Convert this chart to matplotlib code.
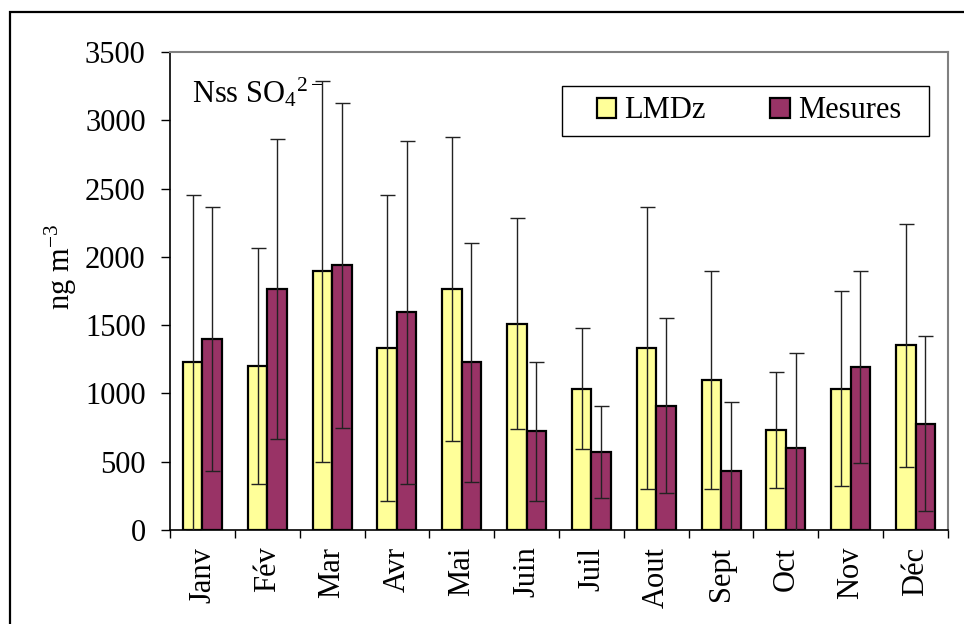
import numpy as np
import matplotlib
matplotlib.use('Agg')
import matplotlib.pyplot as plt
from matplotlib.patches import Rectangle

# Monthly means and standard deviations (ng m-3)
months = ['Janv', 'Fév', 'Mar', 'Avr', 'Mai', 'Juin', 'Juil', 'Aout', 'Sept', 'Oct', 'Nov', 'Déc']
lmdz = [1228, 1202, 1896, 1333, 1765, 1511, 1035, 1333, 1097, 732, 1035, 1353]
lmdz_sd = [1225, 865, 1395, 1120, 1110, 775, 445, 1030, 797, 425, 715, 890]
mesures = [1397, 1765, 1937, 1595, 1228, 723, 572, 910, 432, 601, 1193, 779]
mesures_sd = [966, 1098, 1187, 1255, 875, 510, 337, 640, 507, 694, 703, 642]
yticks = [0, 500, 1000, 1500, 2000, 2500, 3000, 3500]

plt.rcParams['font.family'] = ['Liberation Serif', 'DejaVu Serif']
plt.rcParams['mathtext.fontset'] = 'custom'
plt.rcParams['mathtext.rm'] = 'Liberation Serif'
plt.rcParams['mathtext.it'] = 'Liberation Serif:italic'
plt.rcParams['mathtext.bf'] = 'Liberation Serif:bold'

fs = 22
yellow = '#FFFF99'
maroon = '#993366'

fig = plt.figure(figsize=(9.64, 6.24), dpi=100)
ax = fig.add_axes([170/964, 1 - 530/624, 778/964, 478/624])

x = np.arange(len(months))
w = 0.3
ax.bar(x - w/2, lmdz, w, color=yellow, edgecolor='black', linewidth=1.6, label='LMDz', zorder=2)
ax.bar(x + w/2, mesures, w, color=maroon, edgecolor='black', linewidth=1.6, label='Mesures', zorder=2)
ax.errorbar(x - w/2, lmdz, yerr=lmdz_sd, fmt='none', ecolor='#222222', elinewidth=1.0,
            capsize=5.4, capthick=1.0, zorder=3)
ax.errorbar(x + w/2, mesures, yerr=mesures_sd, fmt='none', ecolor='#222222', elinewidth=1.0,
            capsize=5.4, capthick=1.0, zorder=3)

ax.set_xlim(-0.5, len(months) - 0.5)
ax.set_ylim(0, 3500)
ax.set_yticks(yticks)
ax.set_yticklabels([str(v) for v in yticks], fontsize=fs)
ax.tick_params(axis='y', direction='out', length=6.5, width=1, pad=11, color='black')

ax.set_xticks(x)
ax.set_xticklabels(months, rotation=90, fontsize=fs, va='top')
ax.set_xticks(np.arange(-0.5, len(months)), minor=True)
ax.tick_params(axis='x', which='major', length=0, pad=12)
ax.tick_params(axis='x', which='minor', direction='out', length=6, width=1, color='black')

for s in ['left', 'bottom']:
    ax.spines[s].set_color('black')
    ax.spines[s].set_linewidth(1.2)
for s in ['top', 'right']:
    ax.spines[s].set_color('#808080')
    ax.spines[s].set_linewidth(1.5)

ax.set_ylabel(r'ng m$^{-3}$', fontsize=fs)
ax.yaxis.set_label_coords(-0.117, 0.55)

ax.text(0.028, 0.895, r'Nss SO$_4$$^{2-}$', transform=ax.transAxes, fontsize=fs,
        ha='left', va='baseline', zorder=1)

# legend with its own rectangular frame
ax.add_patch(Rectangle((0.504, 0.824), 0.4716, 0.105, transform=ax.transAxes,
                       facecolor='white', edgecolor='black', linewidth=1.0, zorder=4))
leg = ax.legend(loc='center', bbox_to_anchor=(0.744, 0.8766), ncol=2, frameon=False,
                fontsize=fs, handlelength=0.65, handleheight=0.65, handletextpad=0.26,
                columnspacing=2.1, borderpad=0.2)
leg.set_zorder(5)
for h in leg.legend_handles:
    h.set_linewidth(1.6)

# outer frame around the figure
fig.add_artist(Rectangle((10/964, -0.2), 1.2, 1 - 12/624 + 0.2, transform=fig.transFigure,
                         facecolor='none', edgecolor='black', linewidth=1.6))

fig.savefig('out.png', dpi=100)
